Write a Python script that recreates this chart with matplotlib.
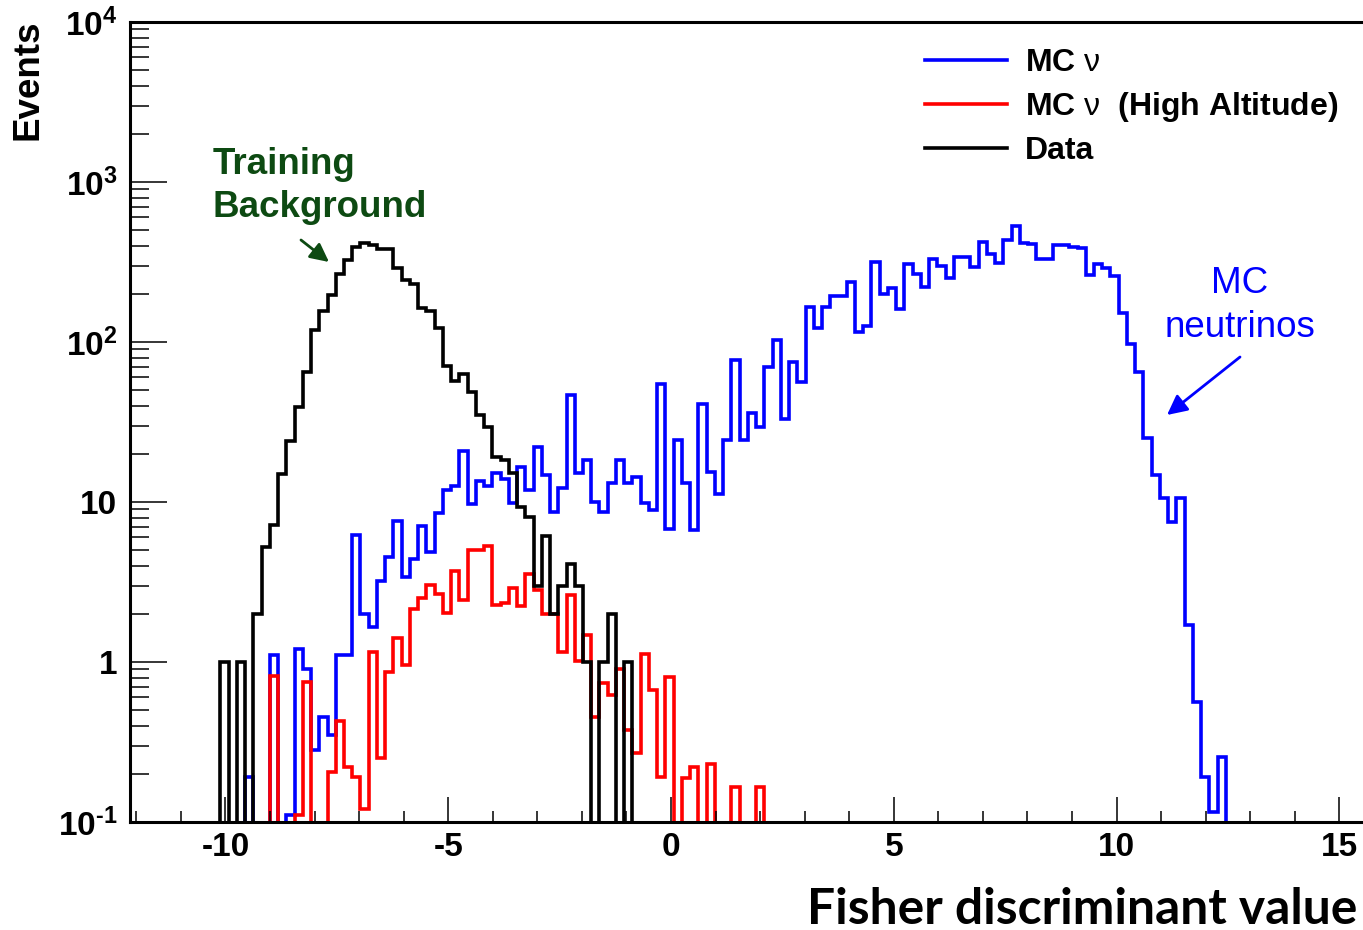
import numpy as np
import matplotlib
matplotlib.use('Agg')
from matplotlib import pyplot as plt
from matplotlib.lines import Line2D
from matplotlib.ticker import FixedLocator, MultipleLocator, LogLocator, NullFormatter

# regular binning of the three histograms
bin_lo = -12.15
bin_width = 0.185
n_bins = 150

# bin contents, each list starts at the given bin index
mc_first_bin = 14
mc_counts = [0.19, 0, 0, 1.1, 0, 0.11, 1.2, 0.9, 0.28, 0.456,
             0.35, 1.1, 1.1, 6.25, 2.0, 1.66, 3.2, 4.5, 7.6, 3.4,
             4.4, 7.1, 4.9, 8.5, 11.8, 12.6, 20.7, 9.7, 13.5, 12.5,
             15.1, 14, 9.8, 16.6, 11.9, 22, 14.7, 8.7, 12.2, 46.5,
             15.1, 18.3, 10, 8.7, 13.1, 18.3, 13.1, 14.4, 9.8, 8.9,
             55, 6.8, 24.4, 13.1, 6.7, 41, 15.5, 11.3, 24.4, 77,
             24.4, 36, 29.5, 70, 103, 33, 75, 56.5, 165, 123,
             165, 195, 195, 238, 115, 126, 318, 200, 217, 160,
             307, 266, 222, 329, 299, 250, 339, 339, 295, 424,
             355, 313, 437, 530, 418, 410, 329, 331, 405, 403,
             395, 387, 263, 309, 288, 258, 151, 97, 65, 25,
             14.8, 10.6, 7.5, 10.6, 1.71, 0.56, 0.19, 0.116, 0.255]

mc_high_first_bin = 17
mc_high_counts = [0.82, 0, 0, 0.11, 0.75, 0, 0, 0.205, 0.43, 0.22,
                  0.19, 0.12, 1.16, 0.25, 0.86, 1.41, 0.96, 2.14, 2.52, 3.05,
                  2.66, 2.02, 3.7, 2.45, 5.0, 5.0, 5.3, 2.27, 2.35, 2.89,
                  2.25, 3.57, 2.8, 2.0, 2.0, 1.16, 2.64, 1.02, 1.47, 0.455,
                  0.74, 0.62, 0.91, 0.376, 0.27, 1.13, 0.67, 0.19, 0.81, 0,
                  0.188, 0.22, 0, 0.23, 0, 0, 0.166, 0, 0, 0.166]

data_first_bin = 11
data_counts = [1, 0, 1, 0, 2.0, 5.2, 7.2, 15, 24, 39,
               65, 118, 157, 198, 266, 326, 390, 413, 403, 380,
               380, 289, 245, 232, 162, 157, 123, 71, 57, 63,
               49, 35, 29.5, 19, 18.3, 15.1, 9.3, 8.1, 3.0, 6.1,
               2.0, 3.0, 4.1, 3.0, 1.0, 0, 1.0, 2.0, 0, 1.0]

legend_labels = ['MC $\\nu$', 'MC $\\nu$  (High Altitude)', 'Data']
x_ticks = [-10, -5, 0, 5, 10, 15]
x_tick_labels = ['-10', '-5', '0', '5', '10', '15']
y_ticks = [0.1, 1, 10, 100, 1000, 10000]
y_tick_labels = ['$\\mathbf{10^{\u2010 1}}$', '1', '10', '$\\mathbf{10^{2}}$',
                 '$\\mathbf{10^{3}}$', '$\\mathbf{10^{4}}$']

plt.rcParams['font.family'] = ['Liberation Sans', 'DejaVu Sans']
plt.rcParams['mathtext.fontset'] = 'custom'
plt.rcParams['mathtext.bf'] = 'Liberation Sans:bold'
plt.rcParams['mathtext.rm'] = 'Liberation Sans'
plt.rcParams['mathtext.it'] = 'Liberation Sans'
plt.rcParams['axes.unicode_minus'] = False


def full_hist(first, counts):
    h = np.zeros(n_bins)
    h[first:first + len(counts)] = counts
    # empty bins go below the axis so the outline drops to the bottom
    return np.where(h > 0, h, 1e-3)


W, H = 1363, 930
fig = plt.figure(figsize=(W / 100, H / 100), dpi=100)
ax = fig.add_axes([129.7 / W, 1 - 822 / H, (1366 - 129.7) / W, 800 / H])

edges = bin_lo + bin_width * np.arange(n_bins + 1)
series = [(mc_first_bin, mc_counts, '#0000ff'),
          (mc_high_first_bin, mc_high_counts, '#ff0000'),
          (data_first_bin, data_counts, 'black')]
for first, counts, col in series:
    p = ax.stairs(full_hist(first, counts), edges, baseline=None,
                  color=col, lw=2.6)
    p.set_joinstyle('miter')

ax.set_yscale('log')
ax.set_xlim(bin_lo, bin_lo + bin_width * n_bins)
ax.set_ylim(0.1, 1e4)

for side in ['top', 'left', 'bottom']:
    ax.spines[side].set_linewidth(2.2)
ax.spines['right'].set_visible(False)

ax.xaxis.set_major_locator(FixedLocator(x_ticks))
ax.set_xticks(x_ticks, x_tick_labels, fontsize=24, fontweight='bold')
ax.xaxis.set_minor_locator(MultipleLocator(1))
ax.set_yticks(y_ticks, y_tick_labels, fontsize=24, fontweight='bold')
ax.yaxis.set_minor_locator(LogLocator(base=10, subs=np.arange(2, 10)))
ax.yaxis.set_minor_formatter(NullFormatter())

ax.tick_params(axis='x', which='major', direction='in', length=18, width=1.1, pad=7)
ax.tick_params(axis='x', which='minor', direction='in', length=8, width=1.1)
ax.tick_params(axis='y', which='major', direction='in', length=26.6, width=1.1, pad=9)
ax.tick_params(axis='y', which='minor', direction='in', length=13.7, width=1.1)

fig.text(28 / W, 1 - 20 / H, 'Events', rotation=90, ha='center', va='top',
         fontsize=26.5, fontweight='bold')
fig.text(1357 / W, 1 - 924 / H, 'Fisher discriminant value', ha='right',
         va='baseline', fontsize=35.8, fontweight='bold', family='Lato')

# legend
handles = [Line2D([], [], color=c, lw=2.6) for _, _, c in series]
ax.legend(handles, legend_labels, loc='upper left', frameon=False,
          bbox_to_anchor=(925 / W, 1 - 48 / H), bbox_transform=fig.transFigure,
          borderpad=0, borderaxespad=0, handlelength=2.56, handletextpad=0.56,
          labelspacing=0.38, prop={'size': 23, 'weight': 'bold'})

# annotations
def px_to_data(px, py):
    return (px - 671) / 44.55, 10 ** ((822 - py) / 160 - 1)

green = '#0d4a12'
ax.text(*px_to_data(213, 147), 'Training\nBackground', color=green,
        fontsize=26.5, fontweight='bold', ha='left', va='top', linespacing=1.3)
ax.annotate('', xy=px_to_data(329, 262), xytext=px_to_data(301, 240),
            arrowprops=dict(arrowstyle='-|>', color=green, lw=2,
                            mutation_scale=28, shrinkA=0, shrinkB=0))

ax.text(*px_to_data(1240, 266), 'MC\nneutrinos', color='#0000ff',
        fontsize=26.5, ha='center', va='top', multialignment='center',
        linespacing=1.33)
ax.annotate('', xy=px_to_data(1167, 415), xytext=px_to_data(1240, 357),
            arrowprops=dict(arrowstyle='-|>', color='#0000ff', lw=2,
                            mutation_scale=30, shrinkA=0, shrinkB=0))

fig.savefig('out.png', dpi=100)
